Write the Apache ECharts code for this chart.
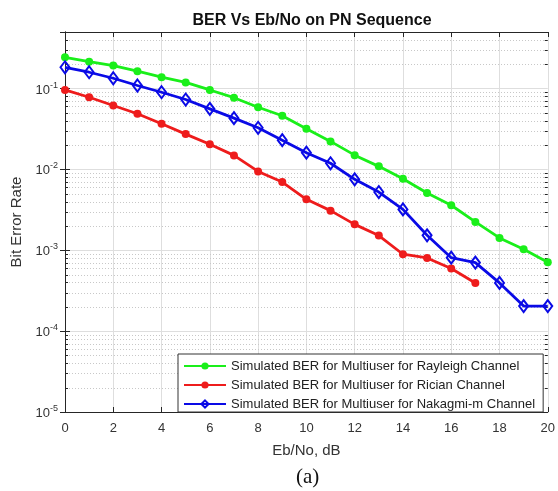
<!DOCTYPE html>
<html>
<head>
<meta charset="utf-8">
<script src="https://cdn.jsdelivr.net/npm/echarts@6/dist/echarts.min.js"></script>
<style>
  html, body { margin: 0; padding: 0; background: #fff; }
  #chart { width: 558px; height: 491px; }
</style>
</head>
<body>
<div id="chart"></div>
<script>
// Eb/No values in dB
const ebno = [0, 1, 2, 3, 4, 5, 6, 7, 8, 9, 10, 11, 12, 13, 14, 15, 16, 17, 18, 19, 20];

// Simulated bit error rates
const berRayleigh = [0.243, 0.215, 0.192, 0.164, 0.138, 0.119, 0.096, 0.077, 0.0587, 0.046, 0.0318,
  0.0222, 0.015, 0.0109, 0.00767, 0.0051, 0.0036, 0.00224, 0.00142, 0.00103, 0.00071];
const berRician = [0.096, 0.078, 0.0616, 0.0487, 0.0366, 0.0273, 0.0205, 0.0149, 0.00944, 0.00697, 0.00427,
  0.00309, 0.00209, 0.00152, 0.000893, 0.000804, 0.000594, 0.000394];
const berNakagami = [0.183, 0.159, 0.134, 0.109, 0.090, 0.0731, 0.0561, 0.043, 0.0327, 0.023, 0.0161,
  0.0119, 0.00753, 0.00525, 0.0032, 0.00153, 0.00081, 0.000704, 0.000395, 0.000204, 0.000204];

const seriesNames = [
  'Simulated BER for Multiuser for Rayleigh Channel',
  'Simulated BER for Multiuser for Rician Channel',
  'Simulated BER for Multiuser for Nakagmi-m Channel'
];

const xMin = 0, xMax = 20, xStep = 2;
const yMin = 1e-5, yMax = 0.5;

// minor (2..9 x 10^k) grid levels strictly inside the y range
const minorLevels = [];
for (let e = -5; e <= -1; e++) {
  for (let k = 2; k <= 9; k++) {
    const v = k * Math.pow(10, e);
    if (v < yMax * 0.999) minorLevels.push(v);
  }
}

const pairs = (ys) => ys.map((y, i) => [ebno[i], y]);

const axisColor = '#262626';
const labelColor = '#333';
const font = 'Liberation Sans, Arial, sans-serif';

function powLabel(v) {
  const l = Math.log10(v);
  const e = Math.round(l);
  if (Math.abs(l - e) > 1e-6) return '';
  return '{b|10}{s|' + e + '}';
}

// dotted minor grid line plus short inward ticks on both vertical borders
function renderMinor(params, api) {
  const v = api.value(1);
  const p0 = api.coord([xMin, v]);
  const p1 = api.coord([xMax, v]);
  const y = Math.round(p0[1]) + 0.5;
  return {
    type: 'group',
    children: [
      {
        type: 'line',
        shape: { x1: p0[0] + 1, y1: y, x2: p1[0] - 1, y2: y },
        style: { stroke: '#c8c8c8', lineWidth: 1, lineDash: [1, 2] }
      },
      {
        type: 'line',
        shape: { x1: p0[0], y1: y, x2: p0[0] + 3, y2: y },
        style: { stroke: axisColor, lineWidth: 1 }
      },
      {
        type: 'line',
        shape: { x1: p1[0] - 3, y1: y, x2: p1[0], y2: y },
        style: { stroke: axisColor, lineWidth: 1 }
      }
    ]
  };
}

const chart = echarts.init(document.getElementById('chart'), null, { renderer: 'canvas' });

chart.setOption({
  animation: false,
  backgroundColor: '#fff',
  title: {
    text: 'BER Vs Eb/No on PN Sequence',
    left: 307,
    textAlign: 'center',
    top: 8,
    textStyle: { fontFamily: font, fontSize: 16, fontWeight: 'bold', color: '#111' }
  },
  grid: { left: 65, right: 10, top: 32, bottom: 79, containLabel: false },
  legend: {
    orient: 'vertical',
    left: 178,
    top: 354,
    data: seriesNames,
    itemWidth: 42,
    itemHeight: 9,
    itemGap: 5,
    padding: [5, 8, 1, 5],
    backgroundColor: '#fff',
    borderColor: '#333',
    borderWidth: 1,
    textStyle: { fontFamily: font, fontSize: 13, lineHeight: 14, color: '#222' }
  },
  xAxis: [
    {
      type: 'value',
      min: xMin, max: xMax, interval: xStep,
      name: 'Eb/No, dB',
      nameLocation: 'middle',
      nameGap: 31,
      nameTextStyle: { fontFamily: font, fontSize: 15, color: labelColor },
      axisLine: { show: true, lineStyle: { color: axisColor, width: 1 } },
      axisTick: { show: true, inside: true, length: 5, lineStyle: { color: axisColor } },
      axisLabel: { fontFamily: font, fontSize: 13, color: labelColor, margin: 10 },
      splitLine: { show: true, lineStyle: { color: '#dedede', width: 1 } }
    },
    {
      type: 'value',
      position: 'top',
      min: xMin, max: xMax, interval: xStep,
      axisLine: { show: true, lineStyle: { color: axisColor, width: 1 } },
      axisTick: { show: true, inside: true, length: 5, lineStyle: { color: axisColor } },
      axisLabel: { show: false },
      splitLine: { show: false }
    }
  ],
  yAxis: [
    {
      type: 'log',
      logBase: 10,
      min: yMin, max: yMax,
      name: 'Bit Error Rate',
      nameLocation: 'middle',
      nameGap: 40,
      nameTextStyle: { fontFamily: font, fontSize: 15, color: labelColor },
      axisLine: { show: true, lineStyle: { color: axisColor, width: 1 } },
      axisTick: { show: true, inside: true, length: 5, lineStyle: { color: axisColor } },
      axisLabel: {
        margin: 7,
        formatter: powLabel,
        rich: {
          b: { fontFamily: font, fontSize: 13, color: labelColor, verticalAlign: 'bottom', lineHeight: 16 },
          s: { fontFamily: font, fontSize: 9, color: labelColor, verticalAlign: 'top', lineHeight: 16, padding: [0, 0, 10, 0] }
        }
      },
      splitLine: { show: true, lineStyle: { color: '#dedede', width: 1 } }
    },
    {
      type: 'log',
      logBase: 10,
      position: 'right',
      min: yMin, max: yMax,
      axisLine: { show: true, lineStyle: { color: axisColor, width: 1 } },
      axisTick: { show: true, inside: true, length: 5, lineStyle: { color: axisColor } },
      axisLabel: { show: false },
      splitLine: { show: false }
    }
  ],
  series: [
    {
      name: 'minor-grid',
      type: 'custom',
      xAxisIndex: 0,
      yAxisIndex: 0,
      silent: true,
      z: 1,
      renderItem: renderMinor,
      data: minorLevels.map(v => [xMin, v])
    },
    {
      name: seriesNames[0],
      type: 'line',
      data: pairs(berRayleigh),
      z: 3,
      color: '#1aef1a',
      symbol: 'circle',
      symbolSize: 8,
      lineStyle: { width: 2.8, color: '#1aef1a' },
      itemStyle: { color: '#1aef1a' }
    },
    {
      name: seriesNames[1],
      type: 'line',
      data: pairs(berRician),
      z: 3,
      color: '#ee1c1c',
      symbol: 'circle',
      symbolSize: 8,
      lineStyle: { width: 2.8, color: '#ee1c1c' },
      itemStyle: { color: '#ee1c1c' }
    },
    {
      name: seriesNames[2],
      type: 'line',
      data: pairs(berNakagami),
      z: 4,
      color: '#0a0ae6',
      symbol: 'diamond',
      symbolSize: [9, 12],
      lineStyle: { width: 2.8, color: '#0a0ae6' },
      itemStyle: { color: 'rgba(255,255,255,0)', borderColor: '#0a0ae6', borderWidth: 2 }
    }
  ],
  graphic: [
    {
      type: 'text',
      left: 296,
      top: 467,
      style: { text: '(a)', fontFamily: 'Liberation Serif, Times New Roman, serif', fontSize: 21, fill: '#111' }
    }
  ]
});
</script>
</body>
</html>
